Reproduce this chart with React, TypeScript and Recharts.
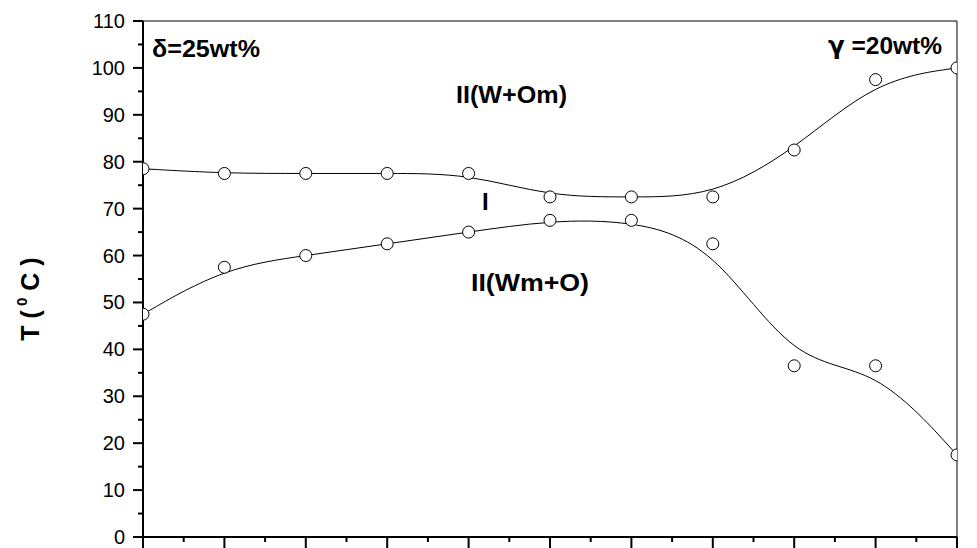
import React from 'react';
import { LineChart, Line, XAxis, YAxis, ReferenceLine, Customized } from 'recharts';

// composition steps along the x axis (no labels in the original)
const steps = [0, 1, 2, 3, 4, 5, 6, 7, 8, 9, 10];
// upper phase boundary (I -> II(W+Om))
const upperT = [78.5, 77.5, 77.5, 77.5, 77.5, 72.5, 72.5, 72.5, 82.5, 97.5, 100];
// lower phase boundary (II(Wm+O) -> I)
const lowerT = [47.5, 57.5, 60, 62.5, 65, 67.5, 67.5, 62.5, 36.5, 36.5, 17.5];

const xTicks = [0, 0.5, 1, 1.5, 2, 2.5, 3, 3.5, 4, 4.5, 5, 5.5, 6, 6.5, 7, 7.5, 8, 8.5, 9, 9.5, 10];
const yTicks = [0, 5, 10, 15, 20, 25, 30, 35, 40, 45, 50, 55, 60, 65, 70, 75, 80, 85, 90, 95, 100, 105, 110];

const data = steps.map((s, i) => ({ x: s, upper: upperT[i], lower: lowerT[i] }));

const FONT = 'Liberation Sans, Arial, Helvetica, sans-serif';

const XTick = (props: any) => {
  const { x, y, payload } = props;
  const major = Number.isInteger(payload.value);
  return <line x1={x} x2={x} y1={y} y2={y + (major ? 12 : 5)} stroke="#000" strokeWidth={2} />;
};

const YTick = (props: any) => {
  const { x, y, payload } = props;
  const major = payload.value % 10 === 0;
  return (
    <g>
      <line x1={x - (major ? 10 : 5)} x2={x} y1={y} y2={y} stroke="#000" strokeWidth={2} />
      {major && (
        <text x={x - 18} y={y} textAnchor="end" dominantBaseline="central" fontSize={20} fontFamily={FONT} fill="#000">
          {payload.value}
        </text>
      )}
    </g>
  );
};

// text labels, stretched a little to the widths seen in the original
const Annotations = () => (
  <g fontFamily={FONT} fontWeight="bold" fill="#000">
    <text x={152} y={57} fontSize={24} textLength={108} lengthAdjust="spacingAndGlyphs">δ=25wt%</text>
    <text x={828} y={54} fontSize={24} textLength={114} lengthAdjust="spacingAndGlyphs">
      <tspan fontFamily="DejaVu Sans">γ</tspan> =20wt%
    </text>
    <text x={456} y={103} fontSize={24} textLength={111} lengthAdjust="spacingAndGlyphs">II(W+Om)</text>
    <text x={482} y={210} fontSize={24}>I</text>
    <text x={471} y={291} fontSize={24} textLength={118} lengthAdjust="spacingAndGlyphs">II(Wm+O)</text>
    <text x={30} y={299} fontSize={25} textAnchor="middle" dominantBaseline="central" transform="rotate(-90 30 299)">
      T (<tspan fontSize={15} dy={-9}> 0</tspan><tspan dy={9}> C )</tspan>
    </text>
  </g>
);

export default function App() {
  return (
    <div style={{ position: 'absolute', left: 0, top: 0, background: '#fff' }}>
      <LineChart width={977} height={548} data={data} margin={{ top: 21, right: 20, bottom: 0, left: 0 }}>
        <XAxis
          dataKey="x"
          type="number"
          domain={[0, 10]}
          ticks={xTicks}
          allowDataOverflow
          height={11}
          tickSize={0}
          tickMargin={0}
          tickLine={false}
          tick={<XTick />}
          axisLine={{ stroke: '#000', strokeWidth: 2 }}
          interval={0}
        />
        <YAxis
          type="number"
          domain={[0, 110]}
          ticks={yTicks}
          allowDataOverflow
          width={143}
          tickSize={0}
          tickMargin={0}
          tickLine={false}
          tick={<YTick />}
          axisLine={{ stroke: '#000', strokeWidth: 2 }}
          interval={0}
        />
        <ReferenceLine y={110} stroke="#000" strokeWidth={1} />
        <ReferenceLine x={10} stroke="#000" strokeWidth={1} />
        <Line
          type="basis"
          dataKey="upper"
          stroke="#000"
          strokeWidth={1}
          dot={{ r: 6, fill: '#fff', stroke: '#000', strokeWidth: 1 }}
          isAnimationActive={false}
        />
        <Line
          type="basis"
          dataKey="lower"
          stroke="#000"
          strokeWidth={1}
          dot={{ r: 6, fill: '#fff', stroke: '#000', strokeWidth: 1 }}
          isAnimationActive={false}
        />
        <Customized component={Annotations} />
      </LineChart>
    </div>
  );
}
